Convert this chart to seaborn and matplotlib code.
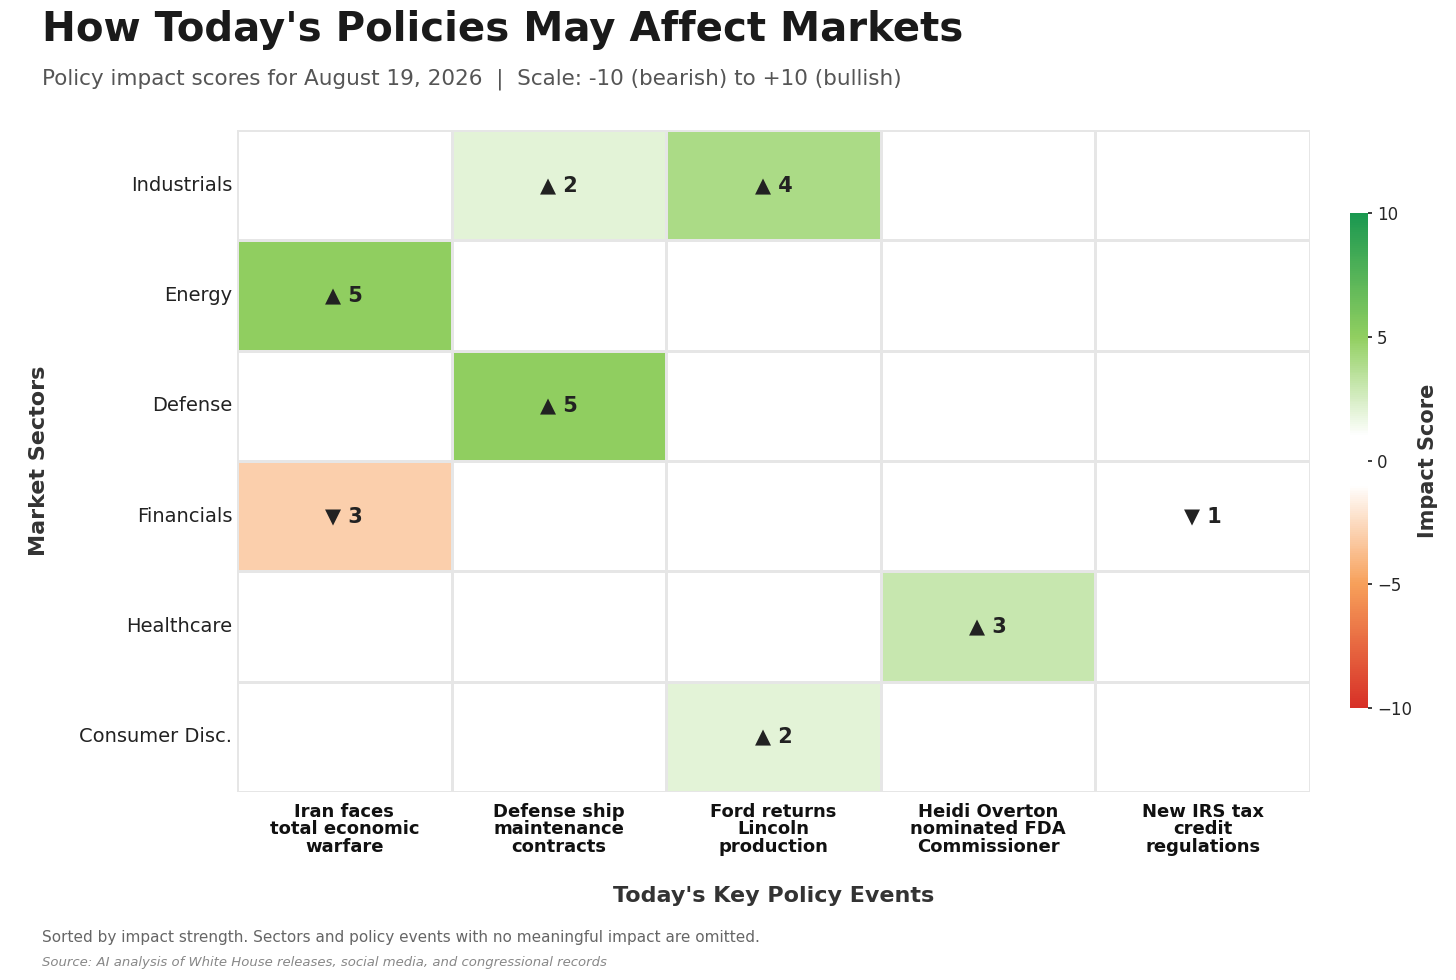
import numpy as np
import pandas as pd
import seaborn as sns
import matplotlib
matplotlib.use("Agg")
import matplotlib.pyplot as plt
from matplotlib.colors import LinearSegmentedColormap

sectors = ["Industrials", "Energy", "Defense", "Financials", "Healthcare", "Consumer Disc."]
events = ["Iran faces\ntotal economic\nwarfare", "Defense ship\nmaintenance\ncontracts",
          "Ford returns\nLincoln\nproduction", "Heidi Overton\nnominated FDA\nCommissioner",
          "New IRS tax\ncredit\nregulations"]
scores = [
    [0, 2, 4, 0, 0],
    [5, 0, 0, 0, 0],
    [0, 5, 0, 0, 0],
    [-3, 0, 0, 0, -1],
    [0, 0, 0, 3, 0],
    [0, 0, 2, 0, 0],
]

sns.set_theme(style="white")
plt.rcParams['font.family'] = ['DejaVu Sans']

df = pd.DataFrame(scores, index=sectors, columns=events)
annot = df.map(lambda v: "" if v == 0 else ("▲ %d" % v if v > 0 else "▼ %d" % abs(v)))

cmap = LinearSegmentedColormap.from_list("imp", [
    (0.0, "#d73027"), (0.25, "#f7a05a"), (0.45, "#ffffff"), (0.55, "#ffffff"),
    (0.75, "#91cf60"), (1.0, "#1a9850")])

fig = plt.figure(figsize=(14.56, 9.8), dpi=100)
ax = fig.add_axes([237/1456, 1-792/980, (1310-237)/1456, (792-130)/980])
cax = fig.add_axes([1350/1456, 1-708/980, 18/1456, (708-213)/980])

sns.heatmap(df, ax=ax, cbar_ax=cax, cmap=cmap, vmin=-10, vmax=10, annot=annot, fmt="",
            linewidths=1, linecolor="#e6e6e6",
            annot_kws={"fontsize": 15, "fontweight": "bold", "color": "#222222"})

ax.tick_params(axis="both", length=0)
ax.set_yticklabels(sectors, rotation=0, fontsize=14, color="#222222")
ax.set_xticklabels(events, rotation=0, fontsize=13, fontweight="bold", color="#111111",
                   linespacing=0.95)
ax.tick_params(axis="x", pad=8)
ax.set_xlabel("Today's Key Policy Events", fontsize=16, fontweight="bold", color="#333333", labelpad=22)
ax.set_ylabel("Market Sectors", fontsize=16, fontweight="bold", color="#333333", labelpad=22)

cax.set_ylabel("Impact Score", fontsize=15, fontweight="bold", color="#333333")
cax.set_yticks([-10, -5, 0, 5, 10])
cax.tick_params(labelsize=12, length=3)
for s in cax.spines.values():
    s.set_visible(False)

fig.text(42/1456, 1-30/980, "How Today's Policies May Affect Markets", fontsize=29,
         fontweight="bold", color="#1a1a1a", va="center")
fig.text(42/1456, 1-79/980, "Policy impact scores for August 19, 2026  |  Scale: -10 (bearish) to +10 (bullish)",
         fontsize=15.5, color="#555555", va="center")
fig.text(42/1456, 1-937/980, "Sorted by impact strength. Sectors and policy events with no meaningful impact are omitted.",
         fontsize=11, color="#666666", va="center")
fig.text(42/1456, 1-962/980, "Source: AI analysis of White House releases, social media, and congressional records",
         fontsize=9.5, color="#888888", style="italic", va="center")

fig.savefig("out.png", dpi=100, facecolor="white")
